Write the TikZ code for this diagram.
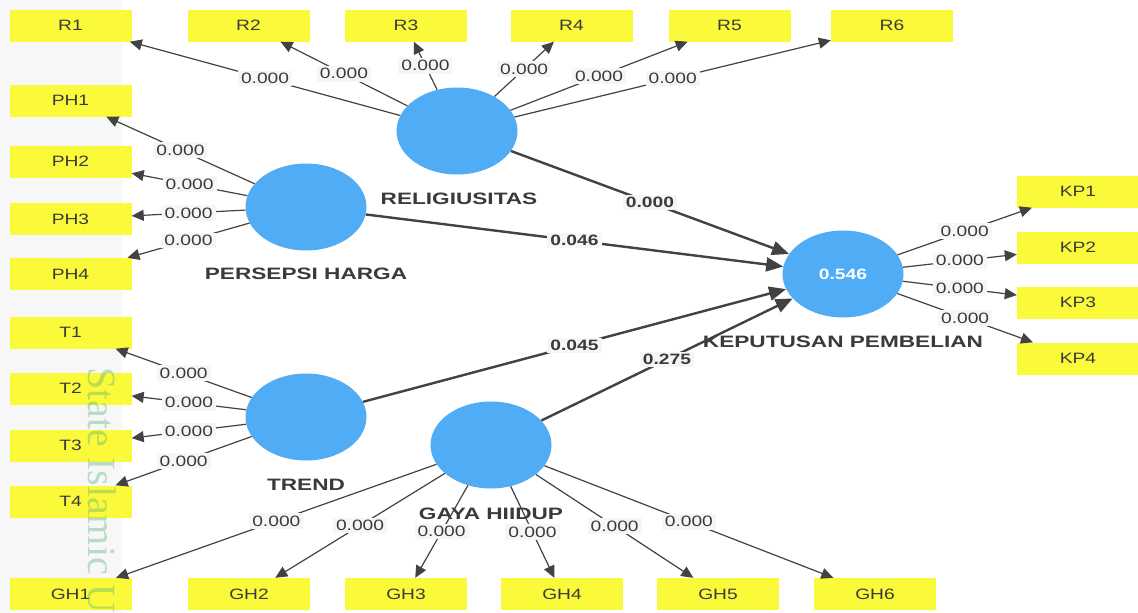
\documentclass[tikz,border=0pt]{standalone}
\usepackage{fontspec}
\usetikzlibrary{shapes.geometric,arrows.meta}
\newfontfamily\lblfam[FakeStretch=1.28]{Liberation Sans}
\newfontfamily\namefam[FakeStretch=1.37]{Liberation Sans}
\newfontfamily\wmfam{Liberation Serif}
\definecolor{boxyellow}{RGB}{250,250,58}
\definecolor{latblue}{RGB}{80,172,245}
\definecolor{edgegray}{RGB}{66,66,66}
\definecolor{txtgray}{RGB}{58,58,58}
\definecolor{labelbg}{RGB}{246,246,246}
\definecolor{wmgreen}{RGB}{90,175,125}
\definecolor{wmgray}{RGB}{247,247,247}
\tikzset{
  ind/.style={rectangle, fill=boxyellow, minimum width=122pt, minimum height=32pt, inner sep=0pt,
    font=\lblfam\fontsize{15}{18}\selectfont, text=txtgray},
  lat/.style={ellipse, fill=latblue, minimum width=121pt, minimum height=87pt, inner sep=0pt},
  latname/.style={font=\namefam\bfseries\fontsize{16.5}{19}\selectfont, text=txtgray, inner sep=0pt},
  loadarrow/.style={-{Triangle[length=12pt,width=11pt]}, draw=edgegray, line width=1.2pt},
  structarrow/.style={-{Triangle[length=17pt,width=14pt]}, draw=edgegray, line width=2.4pt},
  val/.style={fill=labelbg, inner xsep=3pt, inner ysep=2.5pt, font=\lblfam\fontsize{15}{18}\selectfont, text=txtgray},
  pval/.style={fill=labelbg, inner xsep=3pt, inner ysep=2.5pt, font=\lblfam\bfseries\fontsize{15}{18}\selectfont, text=txtgray}
}
\begin{document}
\begin{tikzpicture}[x=1pt,y=-1pt]
\useasboundingbox (0,0) rectangle (1138,613);
\clip (0,0) rectangle (1138,613);
\fill[white] (0,0) rectangle (1138,613);
\fill[wmgray] (0,0) rectangle (122,613);

% latent variables
\node[lat] (rel) at (457,131) {};
\node[lat] (ph) at (306,207) {};
\node[lat] (tr) at (306,417) {};
\node[lat] (gh) at (491,445) {};
\node[lat, font=\lblfam\bfseries\fontsize{15}{18}\selectfont, text=white] (kp) at (843,274) {0.546};

\node[latname] (relname) at (459,199) {RELIGIUSITAS};
\node[latname] (phname) at (306,274) {PERSEPSI HARGA};
\node[latname] (trname) at (306,485) {TREND};
\node[latname] (ghname) at (491,514) {GAYA HIIDUP};
\node[latname] (kpname) at (843,342) {KEPUTUSAN PEMBELIAN};

% indicators
\node[ind] (r1) at (70.5,25.5) {R1};
\node[ind] (r2) at (248.5,25.5) {R2};
\node[ind] (r3) at (406,25.5) {R3};
\node[ind] (r4) at (571.5,25.5) {R4};
\node[ind] (r5) at (729.5,25.5) {R5};
\node[ind] (r6) at (892,25.5) {R6};

\node[ind] (ph1) at (70.5,100.5) {PH1};
\node[ind] (ph2) at (70.5,161.5) {PH2};
\node[ind] (ph3) at (70.5,219) {PH3};
\node[ind] (ph4) at (70.5,274) {PH4};

\node[ind] (t1) at (70.5,332.5) {T1};
\node[ind] (t2) at (70.5,388.5) {T2};
\node[ind] (t3) at (70.5,445.5) {T3};
\node[ind] (t4) at (70.5,501.5) {T4};

\node[ind] (gh1) at (70.5,594) {GH1};
\node[ind] (gh2) at (249,594) {GH2};
\node[ind] (gh3) at (406,594) {GH3};
\node[ind] (gh4) at (562,594) {GH4};
\node[ind] (gh5) at (718,594) {GH5};
\node[ind] (gh6) at (875,594) {GH6};

\node[ind] (kp1) at (1078,191.5) {KP1};
\node[ind] (kp2) at (1078,247.5) {KP2};
\node[ind] (kp3) at (1078,302.5) {KP3};
\node[ind] (kp4) at (1078,358.5) {KP4};

% outer model
\foreach \t in {r1,r2,r3,r4,r5,r6}{
  \draw[loadarrow] (rel) -- node[val] {0.000} (\t);
}
\foreach \t in {ph1,ph2,ph3,ph4}{
  \draw[loadarrow] (ph) -- node[val] {0.000} (\t);
}
\foreach \t in {t1,t2,t3,t4}{
  \draw[loadarrow] (tr) -- node[val] {0.000} (\t);
}
\foreach \t in {gh1,gh2,gh3,gh4,gh5,gh6}{
  \draw[loadarrow] (gh) -- node[val] {0.000} (\t);
}
\foreach \t in {kp1,kp2,kp3,kp4}{
  \draw[loadarrow] (kp) -- node[val] {0.000} (\t);
}

% inner model
\draw[structarrow] (rel) -- node[pval] {0.000} (kp);
\draw[structarrow] (ph) -- node[pval] {0.046} (kp);
\draw[structarrow] (tr) -- node[pval] {0.045} (kp);
\draw[structarrow] (gh) -- node[pval] {0.275} (kp);

% watermark text
\node[rotate=-90, anchor=west, inner sep=0pt, font=\wmfam\fontsize{40}{44}\selectfont, text=wmgreen, opacity=0.4] (wm) at (102,367) {State Islamic U};
\end{tikzpicture}
\end{document}
